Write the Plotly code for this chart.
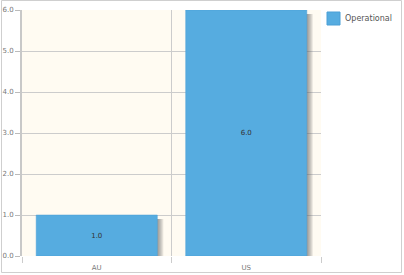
import plotly.graph_objects as go

categories = ["AU", "US"]
operational = [1.0, 6.0]
y_ticks = [0, 1, 2, 3, 4, 5, 6]
series_name = "Operational"

bar_color = "#56ACE0"
bar_width = 0.81
fig = go.Figure()

# soft shadow to the right of each bar (layered translucent bars)
n_layers = 6
for k in range(1, n_layers + 1):
    fig.add_trace(go.Bar(
        x=categories,
        y=[v - 0.1 for v in operational],
        width=bar_width,
        offset=-bar_width / 2 + k * 0.0067,
        marker=dict(color="rgba(90,90,90,0.13)", line=dict(width=0)),
        hoverinfo="skip",
        showlegend=False,
    ))

fig.add_trace(go.Bar(
    x=categories,
    y=operational,
    name=series_name,
    width=bar_width,
    offset=-bar_width / 2,
    marker=dict(color=bar_color, line=dict(color="#4a9fd6", width=0.5)),
    text=[f"{v:.1f}" for v in operational],
    textposition="inside",
    insidetextanchor="middle",
    textangle=0,
    textfont=dict(family="DejaVu Sans", size=7, color="#333333"),
    constraintext="none",
    showlegend=False,
))

PW, PH = 299, 246  # plot area size in px

# compact legend (swatch + label) placed to the right of the plot
legend_shapes = [dict(
    type="rect", xref="paper", yref="paper",
    x0=(327 - 22) / PW, x1=(340 - 22) / PW,
    y0=1 - (25 - 10) / PH, y1=1 - (12 - 10) / PH,
    line=dict(color="#4a9fd6", width=1),
    fillcolor=bar_color,
)]
legend_annotations = [dict(
    xref="paper", yref="paper",
    x=(343 - 22) / PW, y=1 - (18.5 - 10) / PH,
    xanchor="left", yanchor="middle",
    text=series_name, showarrow=False,
    font=dict(family="DejaVu Sans", size=8, color="#555555"),
)]

fig.update_layout(
    width=404,
    height=275,
    autosize=False,
    margin=dict(l=22, r=83, t=10, b=19, autoexpand=False),
    barmode="overlay",
    plot_bgcolor="#FFFBF2",
    paper_bgcolor="white",
    font=dict(family="DejaVu Sans", size=7, color="#777777"),
    showlegend=False,
    xaxis=dict(
        type="category",
        tickson="boundaries",
        ticks="outside",
        ticklen=6,
        tickcolor="#cccccc",
        showgrid=True,
        gridcolor="#cccccc",
        gridwidth=1,
        showline=False,
        zeroline=False,
        range=[-0.5, 1.5],
        ticklabelstandoff=6,
        tickfont=dict(size=7, color="#777777"),
    ),
    yaxis=dict(
        range=[0, 6],
        tickvals=y_ticks,
        tickformat=".1f",
        ticks="outside",
        ticklen=5,
        tickcolor="#bbbbbb",
        showgrid=True,
        gridcolor="#cccccc",
        gridwidth=1,
        showline=True,
        linecolor="#c8c8c8",
        linewidth=2,
        zeroline=False,
        tickfont=dict(size=7, color="#777777"),
    ),
    shapes=[dict(
        type="rect", xref="paper", yref="paper",
        x0=-20.5 / PW, x1=379.5 / PW,
        y0=-16.5 / PH, y1=1 + 9.5 / PH,
        line=dict(color="#cfcfcf", width=1),
        fillcolor="rgba(0,0,0,0)",
        layer="below",
    )] + legend_shapes,
    annotations=legend_annotations,
)

fig.write_html("out.html")
